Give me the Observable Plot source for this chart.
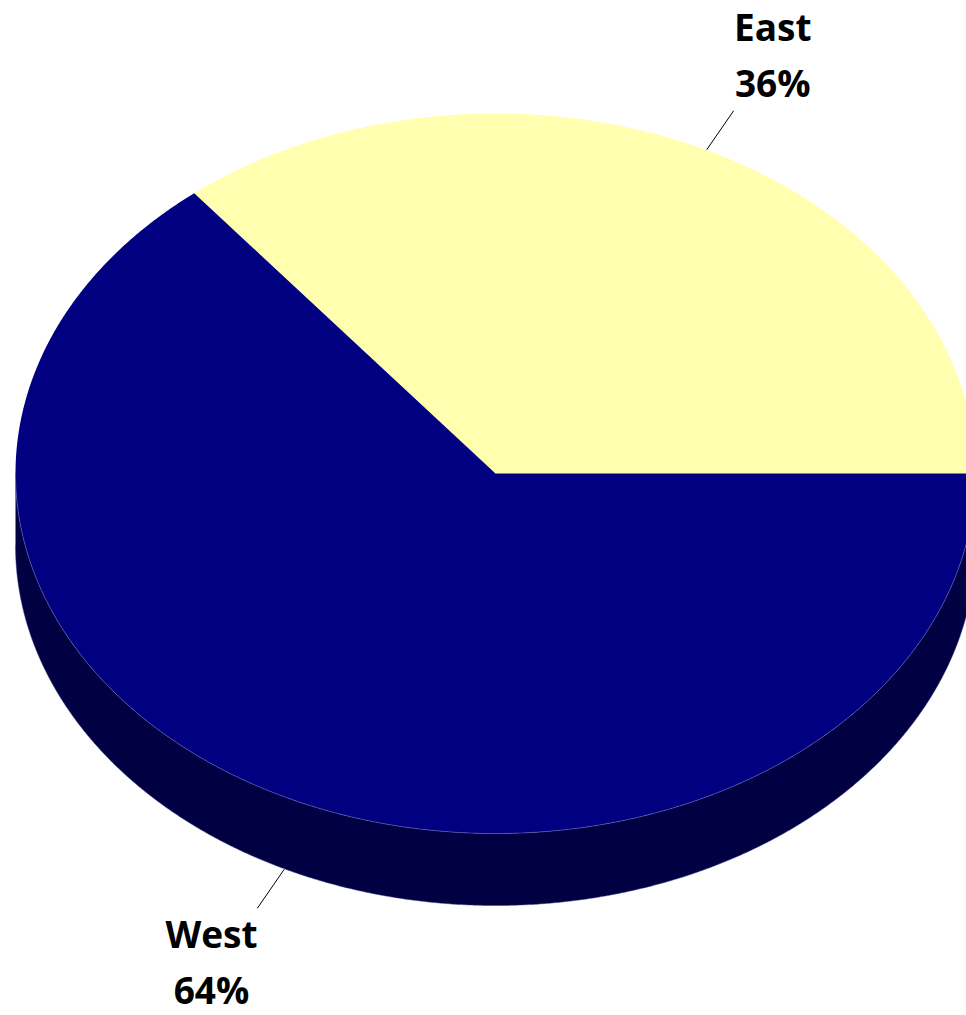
<!DOCTYPE html>
<html>
<head>
<meta charset="utf-8">
<script src="https://cdn.jsdelivr.net/npm/d3@7"></script>
<script src="https://cdn.jsdelivr.net/npm/@observablehq/plot@0.6"></script>
<style>
  html, body { margin: 0; padding: 0; background: #fff; overflow: hidden; }
  #chart svg { overflow: hidden; display: block; }
</style>
</head>
<body>
<div id="chart"></div>
<script>
// ---- data ----
const categories = ["East", "West"];
const shares = [35.8, 64.2];
const shareLabels = ["36%", "64%"];
const sliceColors = ["#FFFFAF", "#000080"];
const sideColor = "#000042";

// ---- geometry helpers (unit ellipse, depth in y units) ----
const depth = 0.2;
const total = d3.sum(shares);
const toRad = d => d * Math.PI / 180;

// slices start at 3 o'clock, counter-clockwise
let acc = 0;
const slices = categories.map((c, i) => {
  const a0 = acc / total * 360;
  acc += shares[i];
  const a1 = acc / total * 360;
  return {name: c, label: shareLabels[i], a0, a1, mid: (a0 + a1) / 2, color: sliceColors[i]};
});

function arc(a0, a1, dy = 0, step = 0.25) {
  const pts = [];
  const n = Math.max(2, Math.ceil(Math.abs(a1 - a0) / step));
  for (let k = 0; k <= n; k++) {
    const a = toRad(a0 + (a1 - a0) * k / n);
    pts.push({x: Math.cos(a), y: Math.sin(a) + dy});
  }
  return pts;
}

// top faces
const topPolys = slices.map(s => [{x: 0, y: 0}, ...arc(s.a0, s.a1), {x: 0, y: 0}]);

// front side wall (visible lower half)
const sidePoly = [...arc(180, 360, 0), ...arc(360, 180, -depth)];
const rimTop = arc(180, 360, 0);
const rimBottom = arc(180, 360, -depth);

// labels and leader lines
const labels = slices.map(s => {
  const c = Math.cos(toRad(s.mid)), si = Math.sin(toRad(s.mid));
  const off = si < 0 ? -depth : 0;
  return {
    text: `${s.name}\n${s.label}`,
    x: 1.355 * c - 0.007, y: 1.285 * si + off + 0.013,
    lx1: 1.02 * c, ly1: 0.997 * si + off,
    lx2: 1.15 * c, ly2: 1.117 * si + off
  };
});

const marks = [
  Plot.line(sidePoly, {x: "x", y: "y", fill: sideColor, stroke: "none", curve: "linear"}),
  Plot.line(rimBottom, {x: "x", y: "y", stroke: "#3a3a80", strokeWidth: 0.5, curve: "linear"}),
  ...topPolys.map((p, i) => Plot.line(p, {x: "x", y: "y", fill: slices[i].color, stroke: "none", curve: "linear"})),
  Plot.line(rimTop, {x: "x", y: "y", stroke: "#5a5ab0", strokeWidth: 0.7, curve: "linear"}),
  Plot.link(labels, {x1: "lx1", y1: "ly1", x2: "lx2", y2: "ly2", stroke: "#000", strokeWidth: 1}),
  Plot.text(labels, {
    x: "x", y: "y", text: "text",
    fontSize: 37, fontWeight: "bold", fontFamily: "'Open Sans', sans-serif",
    fill: "#000", lineHeight: 1.51, textAnchor: "middle", lineAnchor: "middle"
  })
];

const chart = Plot.plot({
  width: 966,
  height: 1015,
  margin: 0,
  x: {domain: [-1, 1], range: [15, 975], axis: null},
  y: {domain: [1, -1], range: [113, 833], axis: null},
  style: {background: "#fff", overflow: "hidden"},
  marks
});
document.getElementById("chart").appendChild(chart);
</script>
</body>
</html>
